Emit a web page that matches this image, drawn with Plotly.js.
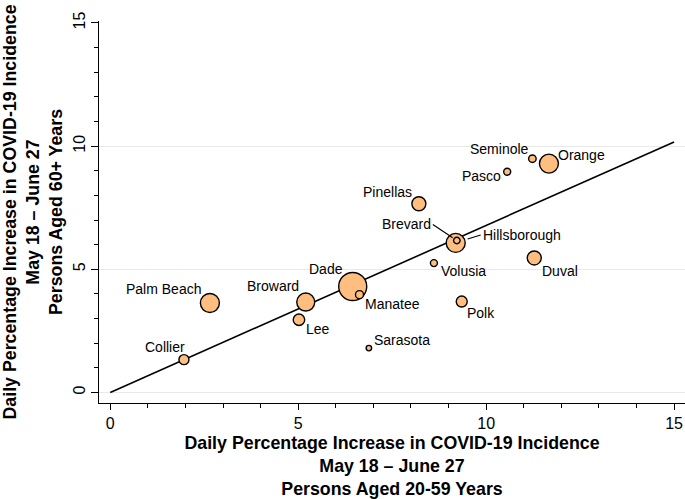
<!DOCTYPE html>
<html>
<head>
<meta charset="utf-8">
<script src="https://cdn.plot.ly/plotly-3.0.1.min.js"></script>
<style>html,body{margin:0;padding:0;background:#fff;}#chart{width:685px;height:499px;}</style>
</head>
<body>
<div id="chart"></div>
<script>
// ---- data ----
const counties   = ['Dade','Palm Beach','Broward','Orange','Hillsborough','Duval','Pinellas','Lee','Polk','Collier','Manatee','Seminole','Pasco','Volusia','Brevard','Sarasota'];
const age20to59  = [6.45, 2.65, 5.20, 11.67, 9.19, 11.28, 8.21, 5.02, 9.35, 1.96, 6.63, 11.23, 10.56, 8.61, 9.22, 6.88];
const age60plus  = [4.30, 3.63, 3.67,  9.29, 6.07,  5.46, 7.66, 2.95, 3.69, 1.33, 3.97,  9.49,  8.96, 5.25, 6.17, 1.80];
const bubbleSize = [28, 19, 18, 19, 19, 14, 14, 11.5, 11, 10, 8, 7.5, 7, 7, 6.5, 5.5];
const fitX = [0, 15];
const fitY = [0, 10.17];
const xTickVals = [0, 5, 10, 15];
const yTickVals = [0, 5, 10, 15];
const gridVals  = [0, 5, 10];

// ---- label placement (pixel offsets of label centre from bubble centre) ----
const labelOffset = {
  'Collier':[-19,-13], 'Palm Beach':[-46,-14], 'Broward':[-33,-16], 'Dade':[-27,-18],
  'Lee':[19,9], 'Manatee':[33,9], 'Sarasota':[33,-8], 'Seminole':[-33,-10],
  'Orange':[33,-9], 'Pasco':[-26,4], 'Pinellas':[-31,-12], 'Volusia':[30,8],
  'Duval':[26,13], 'Polk':[19,11]
};
const leader = { // tail offset from bubble centre, anchor side, standoff
  'Brevard':{ax:-24, ay:-16, xanchor:'right', standoff:5},
  'Hillsborough':{ax:25, ay:-8, xanchor:'left', standoff:12.5}
};

const FONT = 'Liberation Sans, Arial, Helvetica, sans-serif';

const traces = [
  {x: fitX, y: fitY, type:'scatter', mode:'lines', line:{color:'#000', width:1.6}, hoverinfo:'skip', showlegend:false},
  {x: age20to59, y: age60plus, text: counties, type:'scatter', mode:'markers',
   marker:{size: bubbleSize, color:'#fdbe80', line:{color:'#000', width:1.4}, opacity:1},
   showlegend:false, cliponaxis:false},
  // invisible overlay axis providing the grid lines only
  {x: [0], y: [0], yaxis:'y2', type:'scatter', mode:'markers', marker:{opacity:0}, hoverinfo:'skip', showlegend:false}
];

const annotations = [];
counties.forEach((c, i) => {
  if (labelOffset[c]) {
    annotations.push({x: age20to59[i], y: age60plus[i], xref:'x', yref:'y', text:c, showarrow:false,
      xanchor:'center', yanchor:'middle', xshift: labelOffset[c][0], yshift: -labelOffset[c][1],
      font:{family:FONT, size:14, color:'#000'}});
  } else if (leader[c]) {
    const L = leader[c];
    annotations.push({x: age20to59[i], y: age60plus[i], xref:'x', yref:'y', text:c, showarrow:true,
      arrowhead:0, arrowwidth:1.1, arrowcolor:'#000', ax:L.ax, ay:L.ay, standoff:L.standoff,
      xanchor:L.xanchor, yanchor:'middle',
      font:{family:FONT, size:14, color:'#000'}});
  }
});

const layout = {
  width: 685, height: 499,
  margin: {l: 99, r: 0, t: 21, b: 96, pad: 0},
  paper_bgcolor:'#fff', plot_bgcolor:'rgba(0,0,0,0)',
  font: {family: FONT, color:'#000'},
  xaxis: {
    range: [-0.30, 15.29], tickvals: xTickVals, ticktext: xTickVals.map(String),
    showgrid:false, zeroline:false, showline:true, linecolor:'#000', linewidth:1,
    ticks:'outside', ticklen:6, tickwidth:1, tickcolor:'#000',
    minor:{dtick:1, tick0:0, ticks:'outside', ticklen:4, tickwidth:1, tickcolor:'#000', showgrid:false},
    tickfont:{family:FONT, size:16, color:'#000'},
    title:{text:'<b>Daily Percentage Increase in COVID-19 Incidence<br>May 18 – June 27<br>Persons Aged 20-59 Years</b>',
           font:{family:FONT, size:17.8, color:'#000'}, standoff:10},
    automargin:false, fixedrange:true
  },
  yaxis: {
    range: [-0.43, 15.08], tickvals: yTickVals, ticktext: yTickVals.map(String), tickangle:-90,
    showgrid:false, zeroline:false, showline:true, linecolor:'#000', linewidth:1,
    ticks:'outside', ticklen:7, tickwidth:1, tickcolor:'#000',
    minor:{dtick:1, tick0:0, ticks:'outside', ticklen:4, tickwidth:1, tickcolor:'#000', showgrid:false},
    tickfont:{family:FONT, size:16, color:'#000'},
    title:{text:'<b>Daily Percentage Increase in COVID-19 Incidence<br>May 18 – June 27<br>Persons Aged 60+ Years</b>',
           font:{family:FONT, size:17.8, color:'#000'}, standoff:8},
    automargin:false, fixedrange:true
  },
  yaxis2: {
    overlaying:'y', range:[-0.43, 15.08], tickvals: gridVals, showticklabels:false, ticks:'',
    showgrid:true, gridcolor:'#e9e9e9', gridwidth:1, zeroline:false, showline:false, fixedrange:true
  },
  annotations: annotations,
  showlegend:false
};

Plotly.newPlot('chart', traces, layout, {displayModeBar:false, staticPlot:true});
</script>
</body>
</html>
